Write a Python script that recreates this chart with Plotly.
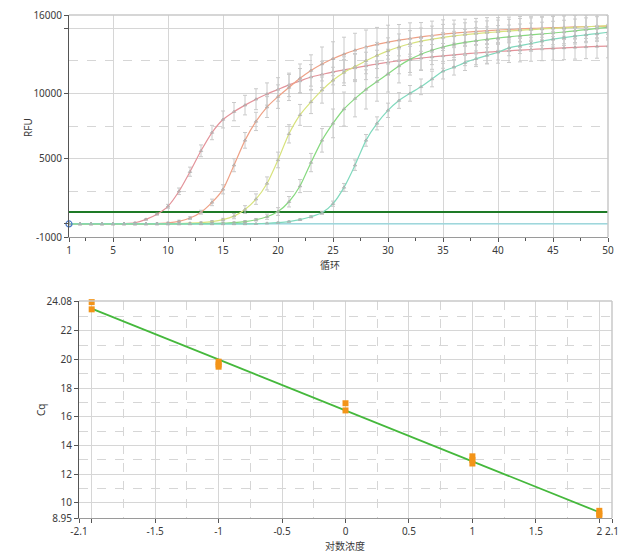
import plotly.graph_objects as go

# ---------------- data: amplification curves ----------------
cycles = list(range(1, 51))

rfu_a = [0, 0, 0, 0, 10, 30, 90, 350, 750, 1350, 2500, 4000, 5600, 7000, 8000, 8600, 9100, 9550, 9950, 10300,
         10650, 10950, 11250, 11450, 11650, 11800, 11950, 12100, 12250, 12380, 12500, 12600, 12700, 12790, 12870,
         12950, 13020, 13090, 13150, 13210, 13260, 13310, 13360, 13400, 13440, 13480, 13520, 13560, 13590, 13620]
rfu_b = [0, 0, 0, 0, 0, 0, 0, 10, 30, 80, 200, 450, 900, 1650, 2650, 4500, 6400, 7850, 8950, 9750,
         10450, 11150, 11750, 12250, 12650, 13000, 13300, 13550, 13750, 13920, 14070, 14200, 14320, 14430, 14530,
         14610, 14680, 14740, 14800, 14850, 14890, 14930, 14970, 15000, 15030, 15060, 15090, 15110, 15130, 15150]
rfu_c = [0, 0, 0, 0, 0, 0, 0, 0, 0, 10, 30, 60, 100, 180, 330, 600, 1100, 1900, 3100, 4900,
         6900, 8350, 9350, 10250, 11000, 11600, 12050, 12500, 12900, 13250, 13550, 13800, 14000, 14150, 14280,
         14400, 14500, 14580, 14650, 14710, 14770, 14830, 14880, 14930, 14980, 15020, 15060, 15100, 15140, 15180]
rfu_d = [0, 0, 0, 0, 0, 0, 0, 0, 0, 0, 0, 10, 20, 40, 60, 100, 180, 320, 550, 950,
         1700, 2900, 4700, 6400, 7700, 8800, 9600, 10300, 10900, 11500, 12100, 12600, 13000, 13300, 13550,
         13750, 13900, 14030, 14140, 14240, 14330, 14410, 14480, 14550, 14620, 14700, 14790, 14880, 14970, 15060]
rfu_e = [0, 0, 0, 0, 0, 0, 0, 0, 0, 0, 0, 0, 0, 0, 0, 0, 0, 20, 50, 100,
         180, 330, 550, 850, 1550, 2800, 4500, 6400, 7700, 8700, 9450, 10000, 10500, 11100, 11700,
         12000, 12350, 12650, 12900, 13150, 13480, 13650, 13820, 13990, 14150, 14270, 14380, 14480, 14580, 14680]

err_a = [0, 0, 0, 0, 0, 0, 30, 50, 60, 150, 250, 350, 450, 550, 650, 700, 750, 800, 850, 900,
         900, 950, 950, 1000, 1000, 1000, 1050, 1050, 1050, 1000, 1000, 1000, 950, 950, 950,
         900, 900, 900, 900, 900, 900, 900, 900, 900, 900, 900, 900, 900, 900, 900]
err_b = [0, 0, 0, 0, 0, 0, 0, 0, 30, 50, 80, 100, 150, 250, 350, 500, 600, 700, 800, 900,
         1000, 1100, 1200, 1300, 1300, 1300, 1300, 1300, 1300, 1300, 1200, 1200, 1100, 1100, 1100,
         1000, 1000, 1000, 1000, 950, 950, 950, 900, 900, 900, 900, 900, 900, 900, 900]
err_c = [0, 0, 0, 0, 0, 0, 0, 0, 0, 0, 0, 30, 50, 80, 100, 200, 300, 400, 500, 600,
         700, 800, 900, 1000, 1000, 1000, 1000, 1000, 1000, 1000, 1000, 1000, 1000, 1000, 1000,
         900, 900, 900, 900, 900, 900, 900, 900, 900, 900, 900, 900, 900, 900, 900]
err_d = [0, 0, 0, 0, 0, 0, 0, 0, 0, 0, 0, 0, 0, 0, 30, 50, 80, 100, 200, 300,
         400, 500, 700, 900, 1100, 1300, 1400, 1500, 1500, 1400, 1300, 1200, 1200, 1100, 1100,
         1000, 1000, 1000, 950, 950, 900, 900, 900, 900, 900, 900, 900, 900, 900, 900]
err_e = [0, 0, 0, 0, 0, 0, 0, 0, 0, 0, 0, 0, 0, 0, 0, 0, 0, 0, 0, 30,
         40, 60, 80, 120, 200, 300, 400, 450, 500, 550, 600, 600, 600, 600, 600,
         600, 600, 600, 600, 600, 600, 600, 600, 600, 600, 600, 600, 600, 600, 600]

curve_names = ["A", "B", "C", "D", "E"]
curve_colors = ["#e3939a", "#eea186", "#d7e27c", "#86d97f", "#7fd9bd"]

threshold = 920
ntc_level = 0

y_ticks_top = [-1000, 0, 5000, 10000, 15000, 16000]
y_ticktext_top = ["-1000", "", "5000", "10000", "", "16000"]
y_minor_top = [2500, 7500, 12500]
x_ticks_top = [1, 5, 10, 15, 20, 25, 30, 35, 40, 45, 50]
x_minor_top = [2.5, 7.5, 12.5, 17.5, 22.5, 27.5, 32.5, 37.5, 42.5, 47.5]

# ---------------- data: standard curve ----------------
log_conc = [-2, -2, -1, -1, -1, 0, 0, 1, 1, 1, 2, 2, 2]
cq_vals = [24.0, 23.5, 19.85, 19.65, 19.5, 16.95, 16.45, 13.25, 13.0, 12.75, 9.45, 9.25, 9.1]
fit_slope = -3.55
fit_intercept = 16.45
fit_x = [-2, 2]

x_ticks_bot = [-2.1, -2, -1.5, -1, -0.5, 0, 0.5, 1, 1.5, 2, 2.1]
x_ticktext_bot = ["-2.1", "", "-1.5", "-1", "-0.5", "0", "0.5", "1", "1.5", "2", "2.1"]
x_minor_bot = [-1.75, -1.25, -0.75, -0.25, 0.25, 0.75, 1.25, 1.75]
y_ticks_bot = [8.95, 10, 12, 14, 16, 18, 20, 22, 24.08]
y_minor_bot = [11, 13, 15, 17, 19, 21, 23]

W, H = 634, 553
FONT = "Noto Sans, Noto Sans CJK SC, sans-serif"
GRID = "#d6d6d6"

fig = go.Figure()

# baseline (NTC) line and threshold
fig.add_trace(go.Scatter(x=[cycles[0], cycles[-1]], y=[ntc_level, ntc_level], mode="lines",
                         line=dict(color="#8ed6dc", width=1.2), xaxis="x", yaxis="y", showlegend=False))
fig.add_trace(go.Scatter(x=[cycles[0], cycles[-1]], y=[threshold, threshold], mode="lines",
                         line=dict(color="#1e7a26", width=2), xaxis="x", yaxis="y", showlegend=False))

for vals, errs, col, nm in zip([rfu_a, rfu_b, rfu_c, rfu_d, rfu_e],
                               [err_a, err_b, err_c, err_d, err_e], curve_colors, curve_names):
    fig.add_trace(go.Scatter(
        x=cycles, y=vals, mode="lines+markers", name=nm,
        line=dict(color=col, width=1.2, shape="spline", smoothing=0.6),
        marker=dict(symbol="triangle-up-open", size=3, color="#ababab", line=dict(width=0.8)),
        error_y=dict(type="data", array=errs, visible=True, color="#cacaca", thickness=1, width=2),
        xaxis="x", yaxis="y", showlegend=False))

fig.add_trace(go.Scatter(x=[cycles[0]], y=[ntc_level], mode="markers",
                         marker=dict(symbol="circle-open", size=6, color="#4a78c8", line=dict(width=1.2)),
                         cliponaxis=False, xaxis="x", yaxis="y", showlegend=False))

# standard curve
fit_y = [fit_slope * v + fit_intercept for v in fit_x]
fig.add_trace(go.Scatter(x=fit_x, y=fit_y, mode="lines", line=dict(color="#45b83c", width=1.8),
                         xaxis="x2", yaxis="y2", showlegend=False))
fig.add_trace(go.Scatter(x=log_conc, y=cq_vals, mode="markers",
                         marker=dict(symbol="square", size=6, color="#f39418"),
                         cliponaxis=False, xaxis="x2", yaxis="y2", showlegend=False))

tickfont = dict(family=FONT, size=10, color="#3a3a3a")

def dom_x(a, b):
    return [a / W, b / W]

def dom_y(top, bottom):
    return [1 - bottom / H, 1 - top / H]

def label(text, px, py, angle=0, family=FONT):
    return dict(text=text, x=px / W, y=1 - py / H, xref="paper", yref="paper", textangle=angle,
                xanchor="center", yanchor="middle", showarrow=False,
                font=dict(family=family, size=10, color="#3a3a3a"))

fig.update_layout(
    width=W, height=H, margin=dict(l=0, r=0, t=0, b=0, autoexpand=False),
    paper_bgcolor="white", plot_bgcolor="white",
    xaxis=dict(domain=dom_x(69, 608), range=[1, 50], tickvals=x_ticks_top, anchor="y", automargin=False,
               showgrid=True, gridcolor=GRID, gridwidth=1, zeroline=False,
               showline=True, linecolor="#9a9a9a", ticks="outside", ticklen=4, tickcolor="#555",
               tickfont=tickfont,
               minor=dict(tickvals=x_minor_top, ticks="outside", ticklen=3, tickcolor="#555", showgrid=False)),
    yaxis=dict(domain=dom_y(15, 237), range=[-1000, 16000], tickvals=y_ticks_top, ticktext=y_ticktext_top,
               anchor="x", automargin=False, showgrid=True, gridcolor=GRID, gridwidth=1, zeroline=False,
               showline=True, linecolor="#555", ticks="outside", ticklen=4, tickcolor="#555",
               tickfont=tickfont,
               minor=dict(tickvals=y_minor_top, showgrid=True, gridcolor=GRID, griddash="dash", ticks="")),
    xaxis2=dict(domain=dom_x(79, 612), range=[-2.1, 2.1], tickvals=x_ticks_bot, ticktext=x_ticktext_bot,
                anchor="y2", automargin=False, showgrid=True, gridcolor=GRID, gridwidth=1, zeroline=False,
                showline=True, linecolor="#9a9a9a", ticks="outside", ticklen=4, tickcolor="#555",
                tickfont=tickfont,
                minor=dict(tickvals=x_minor_bot, showgrid=True, gridcolor=GRID, griddash="dash", ticks="")),
    yaxis2=dict(domain=dom_y(301, 518), range=[8.95, 24.08], tickvals=y_ticks_bot, anchor="x2",
                automargin=False, showgrid=True, gridcolor=GRID, gridwidth=1, zeroline=False,
                showline=True, linecolor="#555", ticks="outside", ticklen=4, tickcolor="#555",
                tickfont=tickfont,
                minor=dict(tickvals=y_minor_bot, showgrid=True, gridcolor=GRID, griddash="dash", ticks="")),
    annotations=[
        label("RFU", 28, 128, angle=-90),
        label("循环", 330, 264, family="Noto Sans CJK SC"),
        label("Cq", 41, 410, angle=-90),
        label("对数浓度", 345, 545, family="Noto Sans CJK SC"),
    ],
)

# light frame on the top/right edges of both plot areas
for xr, yr in [("x domain", "y domain"), ("x2 domain", "y2 domain")]:
    fig.add_shape(type="line", xref=xr, yref=yr, x0=0, x1=1, y0=1, y1=1, line=dict(color="#c8c8c8", width=1.5))
    fig.add_shape(type="line", xref=xr, yref=yr, x0=1, x1=1, y0=0, y1=1, line=dict(color="#c8c8c8", width=1.5))

fig.write_html("out.html")
